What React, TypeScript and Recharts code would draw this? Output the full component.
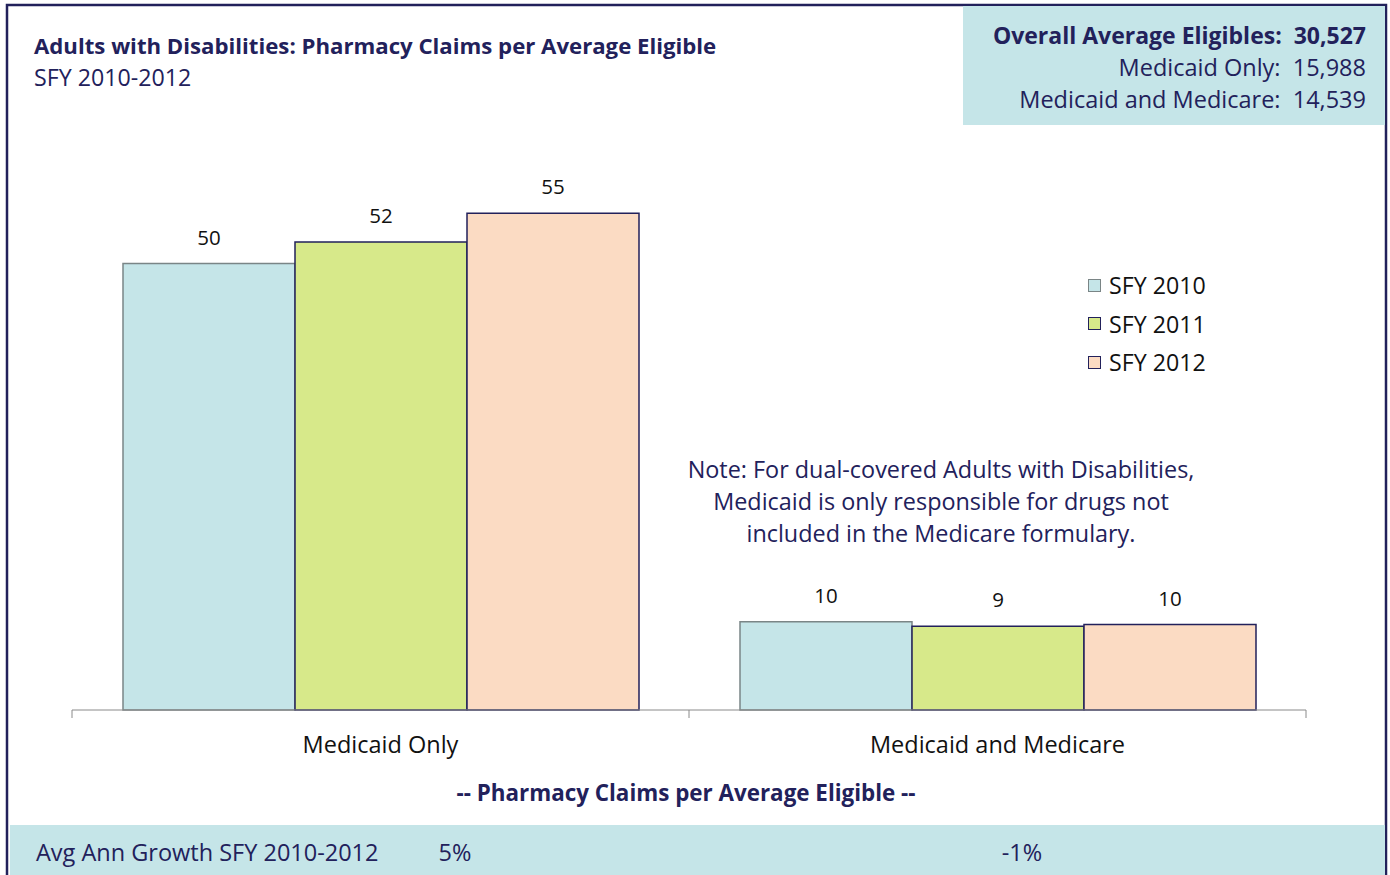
import { Bar, BarChart, LabelList, Legend, XAxis, YAxis } from "recharts";

const categories = ["Medicaid Only", "Medicaid and Medicare"];
const sfy2010 = [49.6, 9.8];
const sfy2011 = [52.0, 9.3];
const sfy2012 = [55.2, 9.5];
const growth = ["5%", "-1%"];

const series = [
  { key: "sfy2010", name: "SFY 2010", fill: "#C5E5E8", stroke: "#7A8586" },
  { key: "sfy2011", name: "SFY 2011", fill: "#D7E98A", stroke: "#22215B" },
  { key: "sfy2012", name: "SFY 2012", fill: "#FBDBC3", stroke: "#22215B" }
];

const eligibles = [
  { label: "Overall Average Eligibles:", value: "30,527", bold: true },
  { label: "Medicaid Only:", value: "15,988", bold: false },
  { label: "Medicaid and Medicare:", value: "14,539", bold: false }
];

const noteLines = [
  "Note: For dual-covered Adults with Disabilities,",
  "Medicaid is only responsible for drugs not",
  "included in the Medicare formulary."
];

const NAVY = "#22215B";
const FONT = "'Open Sans', Lato, sans-serif";

const data = categories.map((name, i) => ({
  name,
  sfy2010: sfy2010[i],
  sfy2011: sfy2011[i],
  sfy2012: sfy2012[i]
}));

function CategoryTick(props: any) {
  const { x, y, payload, index, visibleTicksCount } = props;
  const half = payload.offset ?? 617 / 2;
  return (
    <g>
      <line x1={x - half} x2={x - half} y1={y} y2={y + 8} stroke="#8A8A8A" />
      {index === visibleTicksCount - 1 && (
        <line x1={x + half} x2={x + half} y1={y} y2={y + 8} stroke="#8A8A8A" />
      )}
      <text x={x} y={y + 43} textAnchor="middle" fill="#111" fontSize={23.5} fontFamily={FONT}>
        {payload.value}
      </text>
    </g>
  );
}

function LegendContent() {
  return (
    <div style={{ fontFamily: FONT, fontSize: 23.2, color: "#111" }}>
      {series.map((s) => (
        <div key={s.key} style={{ display: "flex", alignItems: "center", height: 38.5 }}>
          <span
            style={{
              width: 11,
              height: 11,
              background: s.fill,
              border: `1.5px solid ${s.stroke}`,
              marginRight: 8
            }}
          />
          {s.name}
        </div>
      ))}
    </div>
  );
}

export default function App() {
  return (
    <div style={{ position: "relative", width: 1390, height: 875, background: "#fff", overflow: "hidden" }}>
      <style>{"body{margin:0}"}</style>
      <svg
        width={1390}
        height={875}
        style={{ position: "absolute", left: 0, top: 0 }}
        fontFamily={FONT}
      >
        <rect x={7} y={5} width={1379} height={880} fill="none" stroke={NAVY} strokeWidth={2.5} />
        <rect x={963} y={6} width={422} height={119} fill="#C5E5E8" />
        <rect x={10} y={825} width={1375} height={60} fill="#C5E5E8" />
        <text x={34} y={54} fill={NAVY} fontSize={22.2} fontWeight={700}>
          Adults with Disabilities: Pharmacy Claims per Average Eligible
        </text>
        <text x={34} y={86} fill={NAVY} fontSize={23.2}>
          SFY 2010-2012
        </text>
        {eligibles.map((row, i) => (
          <text
            key={row.label}
            x={1366}
            y={44 + i * 32}
            textAnchor="end"
            fill={NAVY}
            fontSize={row.bold ? 23 : 23.5}
            fontWeight={row.bold ? 700 : 400}
            style={{ whiteSpace: "pre" }}
          >
            {`${row.label}  ${row.value}`}
          </text>
        ))}
        {noteLines.map((line, i) => (
          <text key={line} x={941} y={478 + i * 32} textAnchor="middle" fill={NAVY} fontSize={23.4}>
            {line}
          </text>
        ))}
        <text x={686} y={801} textAnchor="middle" fill={NAVY} fontSize={22.4} fontWeight={700}>
          -- Pharmacy Claims per Average Eligible --
        </text>
        <text x={36} y={861} fill={NAVY} fontSize={23.5}>
          Avg Ann Growth SFY 2010-2012
        </text>
        <text x={455} y={861} textAnchor="middle" fill={NAVY} fontSize={23.5}>
          {growth[0]}
        </text>
        <text x={1022} y={861} textAnchor="middle" fill={NAVY} fontSize={23.5}>
          {growth[1]}
        </text>
      </svg>
      <div style={{ position: "absolute", left: 0, top: 0 }}>
        <BarChart
          width={1390}
          height={875}
          data={data}
          margin={{ top: 170, right: 84, bottom: 125, left: 72 }}
          barCategoryGap={51}
          barGap={0}
        >
          <XAxis
            dataKey="name"
            height={40}
            axisLine={{ stroke: "#8A8A8A" }}
            tickLine={false}
            tickSize={0}
            tickMargin={0}
            tick={<CategoryTick />}
            interval={0}
          />
          <YAxis hide domain={[0, 60]} />
          <Legend
            layout="horizontal"
            verticalAlign="middle"
            align="center"
            content={<LegendContent />}
            wrapperStyle={{ left: 1088, top: 266, width: "auto" }}
          />
          {series.map((s) => (
            <Bar
              key={s.key}
              dataKey={s.key}
              name={s.name}
              fill={s.fill}
              stroke={s.stroke}
              strokeWidth={1.5}
              isAnimationActive={false}
            >
              <LabelList
                dataKey={s.key}
                position="top"
                offset={19}
                fill="#111"
                fontSize={20.5}
                fontFamily={FONT}
                formatter={(v: any) => Math.round(Number(v))}
              />
            </Bar>
          ))}
        </BarChart>
      </div>
    </div>
  );
}
